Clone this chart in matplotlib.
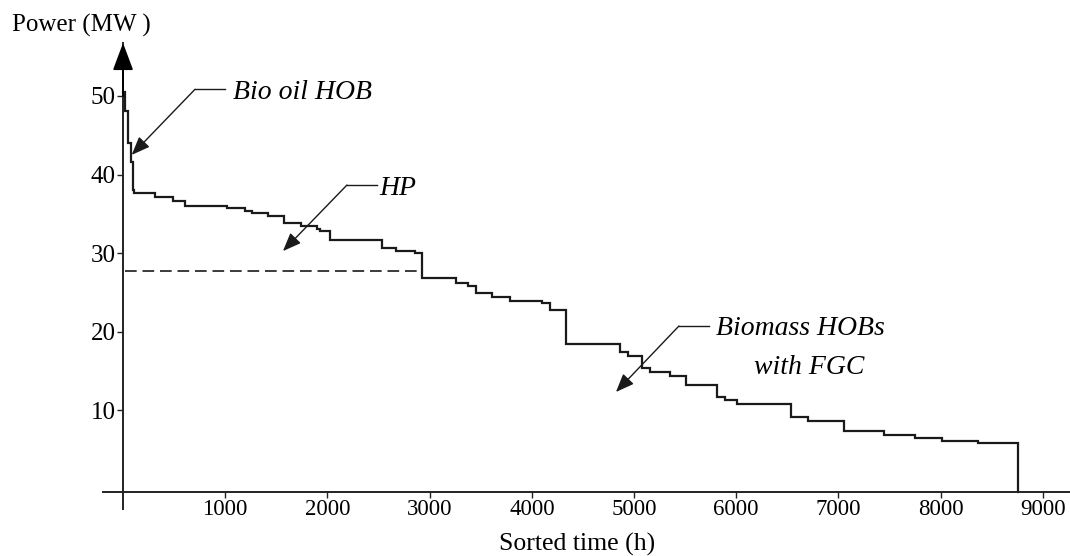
import matplotlib
matplotlib.use('Agg')
import matplotlib.pyplot as plt

plt.rcParams['font.family'] = ['Liberation Serif', 'DejaVu Serif']

# sorted load duration curve (start hour of each step, power in MW)
STEP_HOURS = [0, 20, 50, 75, 95, 110, 313, 492, 607, 1020, 1193, 1262, 1414,
              1575, 1741, 1895, 1927, 2025, 2534, 2671, 2857, 2922, 3255, 3372,
              3453, 3613, 3786, 4096, 4177, 4331, 4862, 4943, 5074, 5156, 5351,
              5505, 5811, 5889, 6004, 6535, 6701, 7056, 7450, 7748, 8009, 8367]
STEP_MW = [50.5, 48.1, 44.0, 41.6, 38.0, 37.6, 37.2, 36.6, 36.0, 35.7, 35.4,
           35.1, 34.7, 33.8, 33.5, 33.1, 32.8, 31.7, 30.6, 30.3, 30.0, 26.8,
           26.2, 25.8, 24.9, 24.4, 23.9, 23.6, 22.8, 18.4, 17.4, 16.9, 15.3,
           14.8, 14.3, 13.2, 11.7, 11.3, 10.8, 9.1, 8.6, 7.3, 6.8, 6.4, 6.1, 5.75]
END_HOUR = 8760

# heat pump capacity (dashed line)
HP_LEVEL = 27.7
HP_RANGE = (20, 2922)

X_TICKS = [1000, 2000, 3000, 4000, 5000, 6000, 7000, 8000, 9000]
Y_TICKS = [10, 20, 30, 40, 50]

AXIS_BASE = -0.45
INK = '#1a1a1a'

fig = plt.figure(figsize=(10.7, 5.56), dpi=100)
ax = fig.add_axes([103 / 1070, (556 - 509) / 556, 967 / 1070, (509 - 43) / 556])
ax.set_xlim(-196, 9266)
ax.set_ylim(-2.6, 56.75)

xs = STEP_HOURS + [END_HOUR, END_HOUR]
ys = STEP_MW + [STEP_MW[-1], AXIS_BASE]
ax.step(xs, ys, where='post', color=INK, linewidth=1.6, solid_joinstyle='miter')

ax.hlines(HP_LEVEL, HP_RANGE[0], HP_RANGE[1], colors=INK, linewidth=1.2,
          linestyles=(0, (7, 3.5)))

# axes drawn as lines, y axis with an arrow head
for side in ['top', 'right']:
    ax.spines[side].set_visible(False)
ax.spines['left'].set_position(('data', 0))
ax.spines['bottom'].set_position(('data', AXIS_BASE))
for side in ['left', 'bottom']:
    ax.spines[side].set_linewidth(1.4)
    ax.spines[side].set_color('#222222')
ax.annotate('', xy=(0, 56.75), xytext=(0, 50), annotation_clip=False,
            arrowprops=dict(arrowstyle='-|>,head_length=1.2,head_width=0.45',
                            mutation_scale=14, color='black', lw=1.4,
                            shrinkA=0, shrinkB=0))

ax.set_xticks(X_TICKS)
ax.set_yticks(Y_TICKS)
ax.tick_params(axis='x', direction='out', length=4, width=1, pad=1,
               labelsize=16.5, color='#222222')
ax.tick_params(axis='y', direction='out', length=4.5, width=1, pad=1,
               labelsize=18, color='#222222')

# labelled arrows
def label_arrow(text_lines, elbow, hend, tip):
    ax.plot([elbow[0], hend[0]], [elbow[1], elbow[1]], color=INK, linewidth=1.0)
    ax.annotate('', xy=tip, xytext=elbow,
                arrowprops=dict(arrowstyle='-|>,head_length=0.4,head_width=0.16',
                                mutation_scale=28, color=INK, lw=1.0,
                                shrinkA=0, shrinkB=0))
    for txt, (tx, ty) in text_lines:
        ax.text(tx, ty, txt, fontsize=20, fontstyle='italic', ha='left',
                va='baseline', color='black')

label_arrow([('Bio oil HOB', (1076, 49.6))], (704, 50.85), (998, 50.85), (85, 42.5))
label_arrow([('HP', (2504, 37.4))], (2191, 38.66), (2485, 38.66), (1565, 30.25))
label_arrow([('Biomass HOBs', (5801, 19.55)), ('with FGC', (6173, 14.6))],
            (5439, 20.7), (5733, 20.7), (4823, 12.3))

fig.text(12 / 1070, 1 - 32 / 556, 'Power (MW )', fontsize=18, ha='left', va='baseline')
fig.text(577 / 1070, 1 - 551 / 556, 'Sorted time (h)', fontsize=18.5, ha='center', va='baseline')

fig.savefig('out.png', dpi=100)
